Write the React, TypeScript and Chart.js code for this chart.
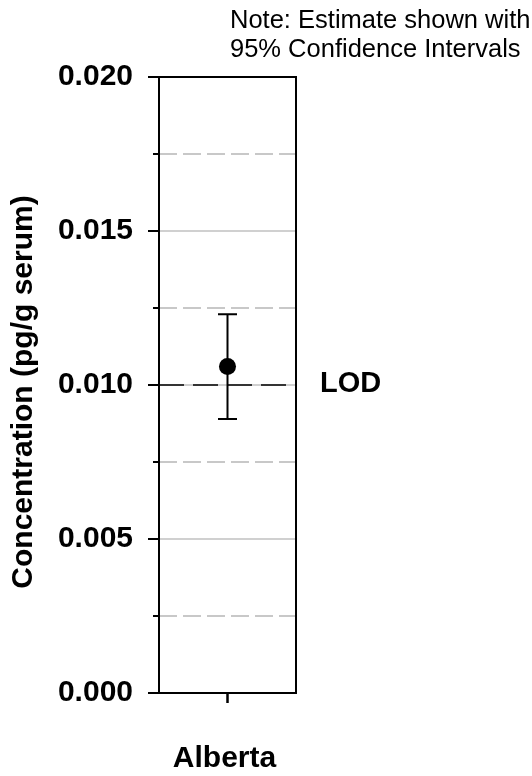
import { useEffect, useRef } from "react";
import { Chart, registerables } from "chart.js";

Chart.register(...registerables);

// ---- data ----
const categories = ["Alberta"];
const estimates = [0.0106];
const lowerCI = [0.0089];
const upperCI = [0.0123];
const lodValue = 0.01;
const lodLabel = "LOD";
const yMin = 0;
const yMax = 0.02;
const yStep = 0.0025;
const yLabelStep = 0.005;
const yTitle = "Concentration (pg/g serum)";
const noteLines = ["Note: Estimate shown with", "95% Confidence Intervals"];

const FONT = '"Liberation Sans", Arial, Helvetica, sans-serif';

export default function App() {
  const ref = useRef<HTMLCanvasElement>(null);

  useEffect(() => {
    const canvas = ref.current;
    if (!canvas) return;
    const isMajor = (v: number) =>
      Math.abs(v / yLabelStep - Math.round(v / yLabelStep)) < 1e-6;

    const plugin = {
      id: "customDraw",
      beforeDatasetsDraw(chart: any) {
        const { ctx, chartArea: a, scales } = chart;
        const y = scales.y;
        ctx.save();
        // grid lines
        y.ticks.forEach((t: any) => {
          const v = t.value;
          if (v <= yMin + 1e-9 || v >= yMax - 1e-9) return;
          const py = y.getPixelForValue(v);
          ctx.beginPath();
          if (isMajor(v)) {
            ctx.setLineDash([]);
            ctx.lineWidth = 1.5;
            ctx.strokeStyle = "#c0c0c0";
          } else {
            ctx.setLineDash([18, 6]);
            ctx.lineWidth = 2;
            ctx.strokeStyle = "#c8c8c8";
          }
          ctx.moveTo(a.left, py);
          ctx.lineTo(a.right, py);
          ctx.stroke();
        });
        // LOD line
        const ly = y.getPixelForValue(lodValue);
        ctx.setLineDash([25, 9]);
        ctx.lineWidth = 1.5;
        ctx.strokeStyle = "#000";
        ctx.beginPath();
        ctx.moveTo(a.left, ly);
        ctx.lineTo(a.right, ly);
        ctx.stroke();
        ctx.setLineDash([]);
        // error bars
        const meta = chart.getDatasetMeta(0);
        meta.data.forEach((pt: any, i: number) => {
          const px = pt.x;
          const yu = y.getPixelForValue(upperCI[i]);
          const yl = y.getPixelForValue(lowerCI[i]);
          ctx.lineWidth = 2;
          ctx.strokeStyle = "#000";
          ctx.beginPath();
          ctx.moveTo(px, yu);
          ctx.lineTo(px, yl);
          ctx.moveTo(px - 9.5, yu);
          ctx.lineTo(px + 9.5, yu);
          ctx.moveTo(px - 9.5, yl);
          ctx.lineTo(px + 9.5, yl);
          ctx.stroke();
        });
        ctx.restore();
      },
      afterDatasetsDraw(chart: any) {
        const { ctx, chartArea: a, scales } = chart;
        const y = scales.y;
        const x = scales.x;
        ctx.save();
        ctx.strokeStyle = "#000";
        ctx.lineWidth = 2;
        ctx.strokeRect(a.left, a.top, a.right - a.left, a.bottom - a.top);
        // y ticks
        y.ticks.forEach((t: any) => {
          const py = y.getPixelForValue(t.value);
          const len = isMajor(t.value) ? 11 : 6;
          ctx.beginPath();
          ctx.moveTo(a.left - len, py);
          ctx.lineTo(a.left, py);
          ctx.stroke();
        });
        // x ticks
        categories.forEach((_c, i) => {
          const px = x.getPixelForTick(i);
          ctx.lineWidth = 2.5;
          ctx.beginPath();
          ctx.moveTo(px, a.bottom);
          ctx.lineTo(px, a.bottom + 10);
          ctx.stroke();
        });
        ctx.restore();
      },
      afterDraw(chart: any) {
        const { ctx, chartArea: a, scales } = chart;
        const y = scales.y;
        ctx.save();
        ctx.fillStyle = "#000";
        // y title
        ctx.font = `bold 30px ${FONT}`;
        ctx.textAlign = "center";
        ctx.textBaseline = "middle";
        ctx.translate(24, (a.top + a.bottom) / 2 + 7);
        ctx.rotate(-Math.PI / 2);
        ctx.fillText(yTitle, 0, 0);
        ctx.setTransform(1, 0, 0, 1, 0, 0);
        // LOD label
        ctx.font = `bold 29px ${FONT}`;
        ctx.textAlign = "left";
        ctx.textBaseline = "middle";
        ctx.fillText(lodLabel, a.right + 24, y.getPixelForValue(lodValue) - 1.5);
        // note
        ctx.font = `25.5px ${FONT}`;
        ctx.textBaseline = "alphabetic";
        ctx.fillText(noteLines[0], 230, 28);
        ctx.fillText(noteLines[1], 230, 56.5);
        ctx.restore();
      },
    };

    const chart = new Chart(canvas, {
      type: "line",
      data: {
        labels: categories,
        datasets: [
          {
            data: estimates,
            showLine: false,
            pointRadius: 8.5,
            pointHoverRadius: 8.5,
            pointBorderWidth: 0,
            pointBackgroundColor: "#000",
            borderColor: "#000",
            backgroundColor: "#000",
          },
        ],
      },
      options: {
        responsive: false,
        animation: false,
        events: [],
        layout: { padding: { left: 0, right: 236, top: 77, bottom: 0 } },
        plugins: { legend: { display: false }, tooltip: { enabled: false } },
        scales: {
          x: {
            type: "category",
            offset: true,
            grid: { display: false, drawTicks: false },
            border: { display: false },
            ticks: {
              color: "#000",
              font: { family: FONT, size: 30, weight: "bold" },
              padding: 48,
              labelOffset: -3,
              maxRotation: 0,
            },
            afterFit: (s: any) => {
              s.height = 83;
            },
          },
          y: {
            type: "linear",
            min: yMin,
            max: yMax,
            grid: { display: false, drawTicks: false },
            border: { display: false },
            ticks: {
              stepSize: yStep,
              autoSkip: false,
              color: "#000",
              font: { family: FONT, size: 30, weight: "bold" },
              padding: 26,
              callback: (v: any) => (isMajor(Number(v)) ? Number(v).toFixed(3) : ""),
            },
            afterFit: (s: any) => {
              s.width = 159;
            },
          },
        },
      },
      plugins: [plugin],
    } as any);

    return () => chart.destroy();
  }, []);

  return (
    <div style={{ position: "absolute", left: 0, top: 0, width: 532, height: 776 }}>
      <canvas ref={ref} width={532} height={776} style={{ display: "block" }} />
    </div>
  );
}
